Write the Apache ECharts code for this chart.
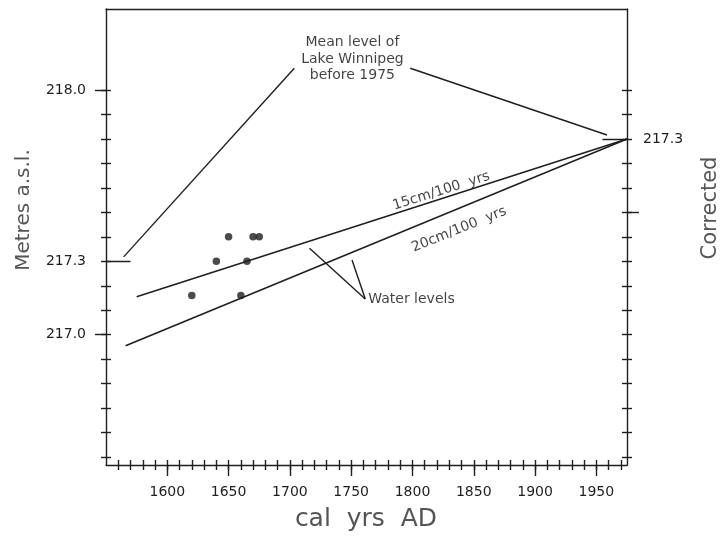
<!DOCTYPE html>
<html>
<head>
<meta charset="utf-8">
<script src="https://cdn.jsdelivr.net/npm/echarts@6/dist/echarts.min.js"></script>
<style>
  html, body { margin: 0; padding: 0; background: #fff; }
  #main { width: 722px; height: 538px; }
</style>
</head>
<body>
<div id="main"></div>
<script>
var chartDom = document.getElementById('main');
var myChart = echarts.init(chartDom);
var option;

// radiocarbon-dated water levels (cal yrs AD, metres a.s.l.)
var dotYears = [1620, 1640, 1650, 1660, 1665, 1670, 1675];
var dotLevels = [217.16, 217.3, 217.4, 217.16, 217.3, 217.4, 217.4];

// trend lines, end points
var line15 = [[1575, 217.155], [1975, 217.8]];
var line20 = [[1566, 216.955], [1975, 217.8]];

// leader lines and markers
var segments = [
    [[1550, 217.3], [1570, 217.3]],
    [[1955, 217.8], [1975, 217.8]],
    [[1564.4, 217.318], [1703.6, 218.089]],
    [[1798.2, 218.089], [1958.7, 217.816]],
    [[1716, 217.353], [1761.5, 217.146]],
    [[1750.7, 217.305], [1761.5, 217.146]]
];

// tick values
var xTicks = [1560, 1570, 1580, 1590, 1600, 1610, 1620, 1630, 1640, 1650, 1660, 1670, 1680, 1690,
    1700, 1710, 1720, 1730, 1740, 1750, 1760, 1770, 1780, 1790, 1800, 1810, 1820, 1830, 1840,
    1850, 1860, 1870, 1880, 1890, 1900, 1910, 1920, 1930, 1940, 1950, 1960, 1970];
var xLabels = [1600, 1650, 1700, 1750, 1800, 1850, 1900, 1950];
var yTicks = [216.5, 216.6, 216.7, 216.8, 216.9, 217.0, 217.1, 217.2, 217.3, 217.4, 217.5,
    217.6, 217.7, 217.8, 217.9, 218.0];
var yLabels = [217.0, 217.3, 218.0];
var yLong = [217.0, 218.0];
var rTicks = [216.0, 216.1, 216.2, 216.3, 216.4, 216.5, 216.6, 216.7, 216.8, 216.9, 217.0,
    217.1, 217.2, 217.3, 217.4, 217.5];
var rLabels = [217.3];
var rLong = [217.0];

var xMin = 1550, xMax = 1975;
var yMin = 216.4675, yMax = 218.331;
var corr = 0.5;

var ink = '#1e1e1e';
var font = 'DejaVu Sans';

function xAxis(extra) {
    return Object.assign({
        type: 'value', min: xMin, max: xMax, position: 'bottom',
        axisLine: { show: false, onZero: false },
        axisTick: { show: false },
        axisLabel: { show: false },
        splitLine: { show: false }
    }, extra);
}
function yAxis(extra, shift) {
    return Object.assign({
        type: 'value', min: yMin - shift, max: yMax - shift, position: 'left',
        axisLine: { show: false, onZero: false },
        axisTick: { show: false },
        axisLabel: { show: false },
        splitLine: { show: false }
    }, extra);
}
var tickLine = { color: ink, width: 1.4 };
var plain = function (v) { return String(v); };

option = {
    animation: false,
    backgroundColor: '#fff',
    grid: { left: 106, right: 95, top: 9, bottom: 73, outerBoundsMode: 'none' },
    xAxis: [
        xAxis({
            axisLine: { show: true, onZero: false, lineStyle: tickLine },
            axisTick: { show: true, length: 5, lineStyle: tickLine, customValues: xTicks },
            axisLabel: {
                show: true, customValues: xLabels, margin: 20, formatter: plain,
                color: ink, fontFamily: font, fontSize: 14
            }
        }),
        xAxis({ axisTick: { show: true, inside: true, length: 5, lineStyle: tickLine, customValues: xTicks } }),
        xAxis({ axisTick: { show: true, length: 11, lineStyle: tickLine, customValues: xLabels } }),
        xAxis({ position: 'top', axisLine: { show: true, onZero: false, lineStyle: tickLine } })
    ],
    yAxis: [
        yAxis({
            axisLine: { show: true, onZero: false, lineStyle: tickLine },
            axisTick: { show: true, length: 5, lineStyle: tickLine, customValues: yTicks },
            axisLabel: {
                show: true, customValues: yLabels, margin: 20,
                color: ink, fontFamily: font, fontSize: 14,
                formatter: function (v) { return v.toFixed(1); }
            }
        }, 0),
        yAxis({ axisTick: { show: true, inside: true, length: 5, lineStyle: tickLine, customValues: yTicks } }, 0),
        yAxis({ axisTick: { show: true, length: 11, lineStyle: tickLine, customValues: yLong } }, 0),
        yAxis({
            position: 'right',
            axisLine: { show: true, onZero: false, lineStyle: tickLine },
            axisTick: { show: true, length: 5, lineStyle: tickLine, customValues: rTicks },
            axisLabel: {
                show: true, customValues: rLabels, margin: 16,
                color: ink, fontFamily: font, fontSize: 14,
                formatter: function (v) { return v.toFixed(1); }
            }
        }, corr),
        yAxis({ position: 'right', axisTick: { show: true, inside: true, length: 5, lineStyle: tickLine, customValues: rTicks } }, corr),
        yAxis({ position: 'right', axisTick: { show: true, length: 12, lineStyle: tickLine, customValues: rLong } }, corr)
    ],
    graphic: [
        {
            type: 'text', x: 24, y: 210, rotation: Math.PI / 2,
            style: { text: 'Metres a.s.l.', align: 'center', verticalAlign: 'middle',
                fontFamily: font, fontSize: 20, fill: '#555' }
        },
        {
            type: 'text', x: 711, y: 208, rotation: Math.PI / 2,
            style: { text: 'Corrected', align: 'center', verticalAlign: 'middle',
                fontFamily: font, fontSize: 21, fill: '#555' }
        },
        {
            type: 'text', x: 366, y: 519,
            style: { text: 'cal  yrs  AD', align: 'center', verticalAlign: 'middle',
                fontFamily: font, fontSize: 25, fill: '#555' }
        }
    ],
    series: [
        {
            type: 'scatter', silent: true,
            symbolSize: 7.5,
            itemStyle: { color: ink },
            data: dotYears.map(function (y, i) { return [y, dotLevels[i]]; })
        },
        {
            type: 'line', silent: true, showSymbol: false,
            lineStyle: { color: ink, width: 1.5 },
            data: line15
        },
        {
            type: 'line', silent: true, showSymbol: false,
            lineStyle: { color: ink, width: 1.5 },
            data: line20
        },
        {
            type: 'lines', coordinateSystem: 'cartesian2d', silent: true,
            lineStyle: { color: ink, width: 1.4, opacity: 1 },
            data: segments.map(function (s) { return { coords: s }; })
        },
        {
            type: 'scatter', silent: true, symbolSize: 0,
            label: {
                show: true, position: 'inside', formatter: '{b}',
                color: '#111', fontFamily: font, fontSize: 14, lineHeight: 16.5
            },
            data: [
                { name: 'Mean level of\nLake Winnipeg\nbefore 1975', value: [1751, 218.127] },
                { name: '15cm/100  yrs', value: [1823.5, 217.587], label: { rotate: 17.5 } },
                { name: '20cm/100  yrs', value: [1838, 217.43], label: { rotate: 22 } },
                { name: 'Water levels', value: [1761.5, 217.146], label: { position: 'right', distance: 3 } }
            ]
        }
    ]
};

option && myChart.setOption(option);
</script>
</body>
</html>
